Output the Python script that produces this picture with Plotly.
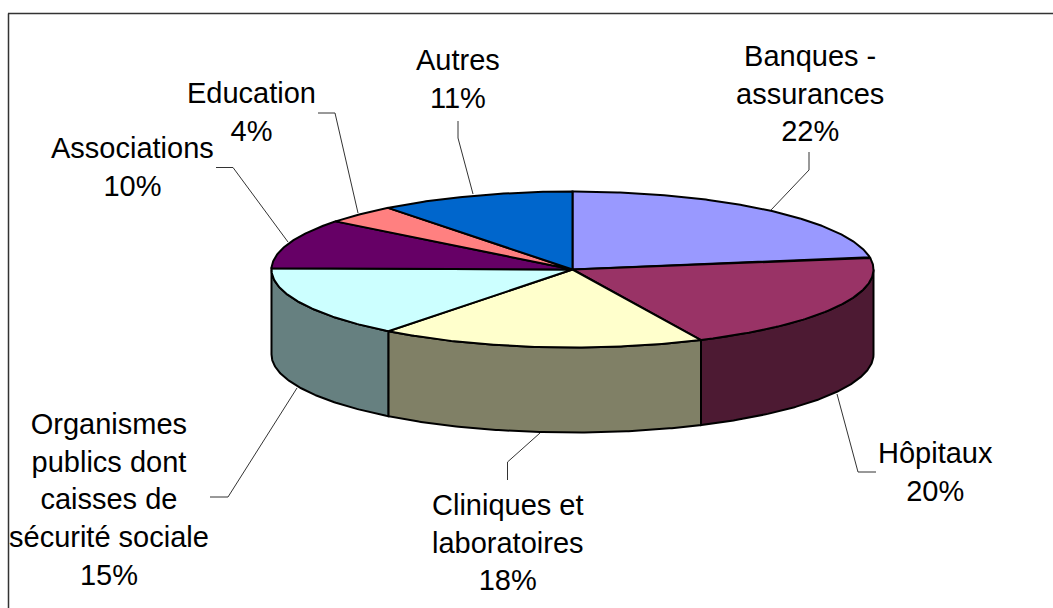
import math
import plotly.graph_objects as go

W, H = 1053, 608
categories = ["Banques -<br>assurances", "Hôpitaux", "Cliniques et<br>laboratoires",
              "Organismes<br>publics dont<br>caisses de<br>sécurité sociale",
              "Associations", "Education", "Autres"]
values = [22.49, 20.49, 17.5, 14.8, 10.3, 3.92, 10.5]
percent_labels = ["22%", "20%", "18%", "15%", "10%", "4%", "11%"]
top_colors = ["#9999FF", "#993366", "#FFFFCC", "#CCFFFF", "#660066", "#FF8080", "#0066CC"]
side_colors = ["#4D4D80", "#4D1A33", "#808066", "#668080", "#330033", "#804040", "#003366"]
label_centers = [(810, 93), (935, 472), (508, 542), (109, 499), (132, 167), (251, 112), (458, 79)]
leaders = [
    [(809, 152), (809, 170), (771, 210)],
    [(837, 394), (858, 472), (876, 472)],
    [(540, 433), (507.5, 462), (507.5, 480)],
    [(297, 388), (228, 497), (210, 497)],
    [(216, 167.5), (233, 167.5), (288, 242)],
    [(318, 113), (335, 113), (358, 213)],
    [(458, 121), (458, 138), (473, 194)],
]

CX, CY, RX, RY, DEPTH = 572.5, 269.5, 301, 78, 85


def rim(a0, a1, drop=0.0):
    """Rim points between two angles (degrees clockwise from 12 o'clock)."""
    n = max(2, int(abs(a1 - a0)) * 2 + 1)
    angs = [math.radians(a0 + (a1 - a0) * i / (n - 1)) for i in range(n)]
    return [RX * math.sin(a) for a in angs], [RY * math.cos(a) - drop for a in angs]


fig = go.Figure()
total = sum(values)
edges = [0.0]
for v in values:
    edges.append(edges[-1] + v / total * 360)

# Walls of the disc: only the front half is visible
for i in range(len(values)):
    a0, a1 = max(edges[i], 90), min(edges[i + 1], 270)
    if a1 <= a0:
        continue
    xt, yt = rim(a0, a1)
    xb, yb = rim(a1, a0, DEPTH)
    fig.add_trace(go.Scatter(x=xt + xb + xt[:1], y=yt + yb + yt[:1], mode="lines", fill="toself",
                             fillcolor=side_colors[i], line=dict(color="black", width=2),
                             hoverinfo="skip", showlegend=False))

# Top face of each slice
for i in range(len(values)):
    xt, yt = rim(edges[i], edges[i + 1])
    fig.add_trace(go.Scatter(x=[0] + xt + [0], y=[0] + yt + [0], mode="lines", fill="toself",
                             fillcolor=top_colors[i], line=dict(color="black", width=2),
                             name=categories[i].replace("<br>", " "), showlegend=False,
                             hoverinfo="name"))

shapes = [dict(type="line", xref="paper", yref="paper",
               x0=8.5 / W, x1=8.5 / W, y0=0, y1=1 - 13.5 / H,
               line=dict(color="#333333", width=1.5)),
          dict(type="line", xref="paper", yref="paper",
               x0=8 / W, x1=1, y0=1 - 13.5 / H, y1=1 - 13.5 / H,
               line=dict(color="#333333", width=1.5))]
for pts in leaders:
    for (x0, y0), (x1, y1) in zip(pts, pts[1:]):
        shapes.append(dict(type="line", xref="paper", yref="paper",
                           x0=x0 / W, x1=x1 / W, y0=1 - y0 / H, y1=1 - y1 / H,
                           line=dict(color="#333333", width=1)))

annotations = [dict(text=f"{c}<br>{p}", xref="paper", yref="paper",
                    x=lx / W, y=1 - ly / H, xanchor="center", yanchor="middle",
                    showarrow=False, align="center",
                    font=dict(family="Liberation Sans", size=29, color="black"))
               for c, p, (lx, ly) in zip(categories, percent_labels, label_centers)]

fig.update_layout(
    width=W, height=H, autosize=False,
    margin=dict(l=0, r=0, t=0, b=0),
    paper_bgcolor="white", plot_bgcolor="white",
    xaxis=dict(range=[-CX, W - CX], visible=False, fixedrange=True),
    yaxis=dict(range=[CY - H, CY], visible=False, fixedrange=True),
    shapes=shapes, annotations=annotations, showlegend=False,
)
fig.write_html("out.html", config=dict(displayModeBar=False),
               post_script="document.body.style.margin='0';document.documentElement.style.overflow='hidden';")
